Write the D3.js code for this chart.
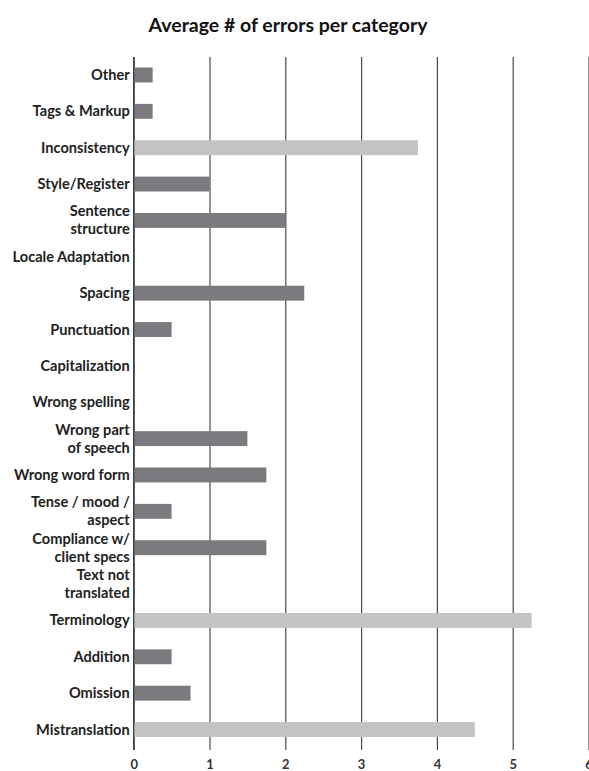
<!DOCTYPE html>
<html>
<head>
<meta charset="utf-8">
<script src="https://cdn.jsdelivr.net/npm/d3@7"></script>
<style>
  body { margin: 0; background: #fff; }
  .title { font-family: Lato, "Open Sans", sans-serif; font-weight: bold; font-size: 19.5px; fill: #111; }
  .cat text { font-family: Lato, "Open Sans", sans-serif; font-weight: bold; font-size: 14.6px; fill: #222; }
  .xaxis text { font-family: "Liberation Sans Narrow", Lato, sans-serif; font-size: 13px; font-weight: bold; fill: #333; }
</style>
</head>
<body>
<svg id="chart" width="589" height="771"></svg>
<script>
// categories top to bottom, "\n" marks a line break in the label
var categories = ["Other", "Tags & Markup", "Inconsistency", "Style/Register", "Sentence\nstructure",
  "Locale Adaptation", "Spacing", "Punctuation", "Capitalization", "Wrong spelling",
  "Wrong part\nof speech", "Wrong word form", "Tense / mood /\naspect", "Compliance w/\nclient specs",
  "Text not\ntranslated", "Terminology", "Addition", "Omission", "Mistranslation"];
var values = [0.25, 0.25, 3.75, 1, 2, 0, 2.25, 0.5, 0, 0, 1.5, 1.75, 0.5, 1.75, 0, 5.25, 0.5, 0.75, 4.5];
var highlighted = ["Inconsistency", "Terminology", "Mistranslation"];
var xTicks = [0, 1, 2, 3, 4, 5, 6];

var svg = d3.select("#chart"),
    plotLeft = 133.7, plotRight = 588.5, plotTop = 56.8, plotBottom = 747.7;

var data = categories.map(function(c, i) { return {cat: c, value: values[i]}; });

var x = d3.scaleLinear().domain([0, 6]).range([plotLeft, plotRight]);
var y = d3.scaleBand().domain(categories).range([plotTop, plotBottom])
    .paddingInner(0.59).paddingOuter(0.295);

svg.append("text")
    .attr("class", "title")
    .attr("x", 288).attr("y", 32)
    .attr("text-anchor", "middle")
    .text("Average # of errors per category");

// gridlines + tick labels
var xa = svg.append("g")
    .attr("class", "xaxis")
    .attr("transform", "translate(0,750)")
    .call(d3.axisBottom(x).tickValues(xTicks).tickSize(-(750 - 57)).tickPadding(10).tickFormat(d3.format("d")));
xa.select(".domain").remove();
xa.selectAll(".tick line").attr("stroke", "#4a4a4a").attr("stroke-width", 1.2);

// bars
svg.append("g")
  .selectAll("rect")
  .data(data)
  .enter().append("rect")
    .attr("x", x(0))
    .attr("y", function(d) { return y(d.cat); })
    .attr("height", y.bandwidth())
    .attr("width", function(d) { return x(d.value) - x(0); })
    .attr("fill", function(d) { return highlighted.indexOf(d.cat) >= 0 ? "#c3c3c3" : "#7b7a7e"; });

// category labels
var ya = svg.append("g")
    .attr("class", "cat")
    .attr("transform", "translate(" + plotLeft + ",0)")
    .call(d3.axisLeft(y).tickSize(0).tickPadding(4));
ya.select(".domain").remove();
ya.selectAll(".tick text").each(function(d) {
  var t = d3.select(this), lines = d.split("\n");
  t.text(null).attr("dy", null);
  lines.forEach(function(line, i) {
    t.append("tspan")
      .attr("x", -4)
      .attr("dy", i === 0 ? ((-(lines.length - 1) * 18 / 2) + 5) + "px" : "18px")
      .text(line);
  });
});

// axis line at zero
svg.append("line")
    .attr("x1", x(0)).attr("x2", x(0))
    .attr("y1", 57).attr("y2", 750)
    .attr("stroke", "#333").attr("stroke-width", 1.2);
</script>
</body>
</html>
